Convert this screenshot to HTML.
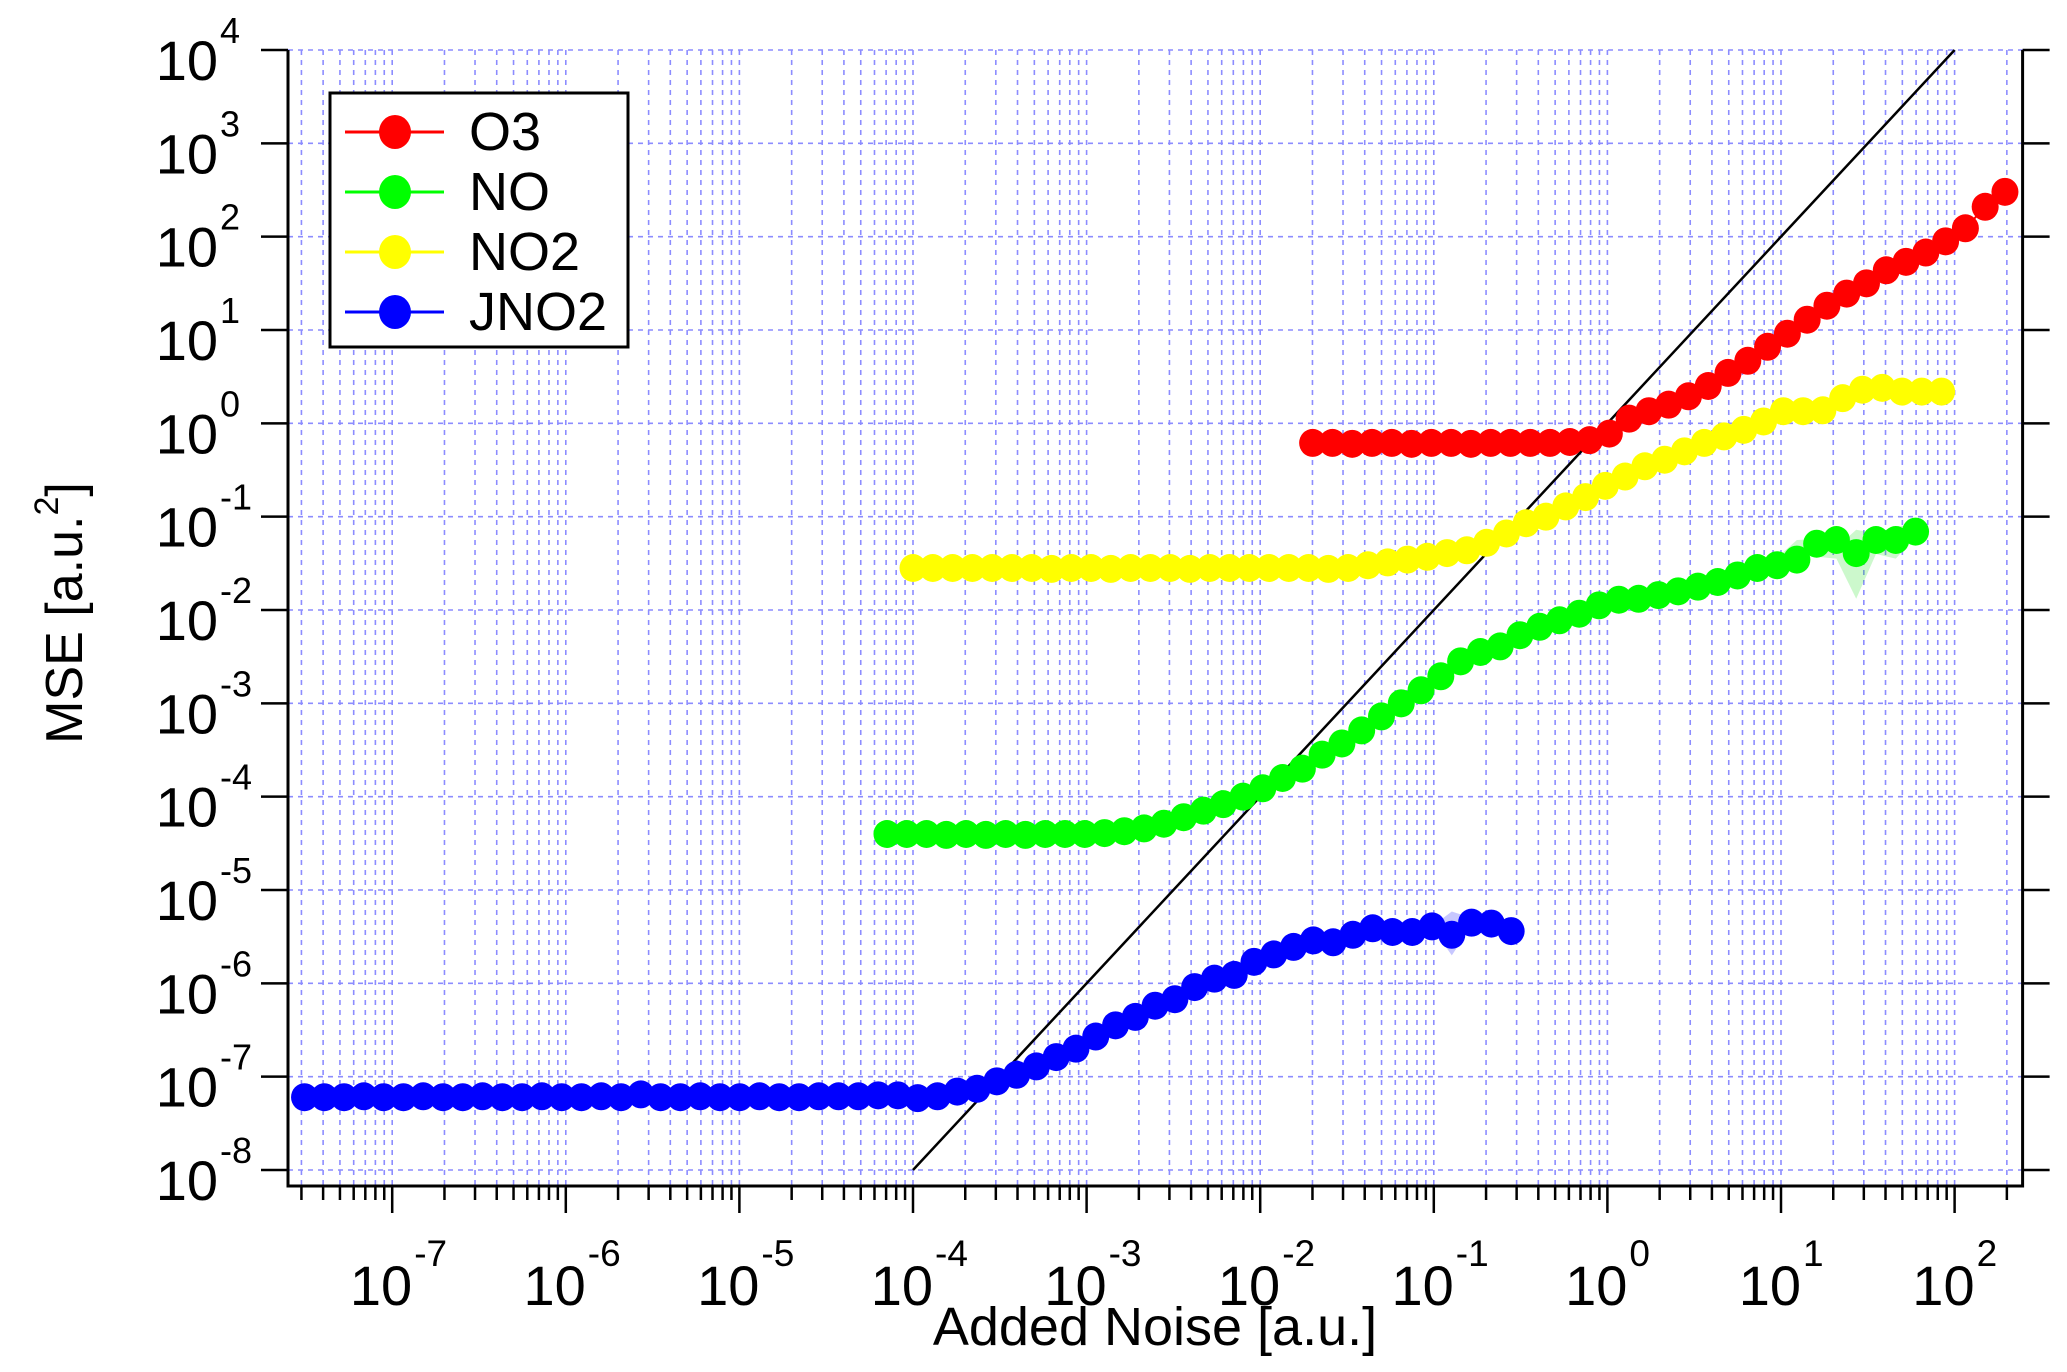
<!DOCTYPE html>
<html><head><meta charset="utf-8"><style>
html,body{margin:0;padding:0;background:#fff;}
svg{display:block;font-family:"Liberation Sans",Arial,sans-serif;}
</style></head><body>
<svg id="chart" width="2067" height="1372" viewBox="0 0 2067 1372" xmlns="http://www.w3.org/2000/svg">
<g id="grid"></g>
<g id="refline"></g>
<g id="series"></g>
<g id="axes"></g>
<text x="1155" y="1345" font-size="54" text-anchor="middle">Added Noise [a.u.]</text>
<text transform="translate(82,613) rotate(-90)" font-size="52" text-anchor="middle">MSE [a.u.<tspan font-size="34" dy="-24">2</tspan><tspan dy="24">]</tspan></text>
<g id="legend"></g>
</svg>
<script>
// ---- data (log10 of values) ----
const xDecades = [-7,-6,-5,-4,-3,-2,-1,0,1,2];
const yDecades = [-8,-7,-6,-5,-4,-3,-2,-1,0,1,2,3,4];
const noiseRatio = 1.3; // consecutive added-noise levels differ by factor 1.3
const o3Start = -1.698, noStart = -4.15, no2Start = -4.0, jno2Start = -7.505; // log10 of first noise level
const o3Values = [-0.21,-0.21,-0.22,-0.21,-0.21,-0.22,-0.21,-0.21,-0.22,-0.21,-0.21,-0.21,-0.21,-0.20,-0.18,-0.11,0.05,0.13,0.20,0.29,0.40,0.54,0.67,0.82,0.96,1.11,1.26,1.39,1.50,1.64,1.73,1.83,1.95,2.09,2.32,2.48];
const noValues = [-4.40,-4.40,-4.40,-4.41,-4.40,-4.41,-4.40,-4.41,-4.40,-4.40,-4.40,-4.39,-4.37,-4.34,-4.29,-4.22,-4.15,-4.08,-4.00,-3.91,-3.80,-3.70,-3.55,-3.43,-3.29,-3.14,-3.00,-2.86,-2.71,-2.55,-2.45,-2.39,-2.27,-2.18,-2.11,-2.04,-1.95,-1.89,-1.88,-1.84,-1.80,-1.75,-1.70,-1.63,-1.55,-1.52,-1.46,-1.29,-1.25,-1.39,-1.25,-1.25,-1.16];
const noBandLo = [null,null,null,null,null,null,null,null,null,null,null,null,null,null,null,null,null,null,null,null,null,null,null,null,null,null,null,null,null,null,null,null,null,null,null,null,null,null,null,null,null,null,null,null,-1.52,-1.60,-1.40,-1.43,-1.45,-1.88,-1.40,-1.45,-1.22];
const noBandHi = [null,null,null,null,null,null,null,null,null,null,null,null,null,null,null,null,null,null,null,null,null,null,null,null,null,null,null,null,null,null,null,null,null,null,null,null,null,null,null,null,null,null,null,null,-1.52,-1.44,-1.25,-1.24,-1.33,-1.14,-1.18,-1.10,-1.10];
const no2Values = [-1.55,-1.55,-1.55,-1.55,-1.55,-1.55,-1.55,-1.56,-1.55,-1.55,-1.56,-1.55,-1.55,-1.55,-1.56,-1.55,-1.55,-1.55,-1.55,-1.55,-1.55,-1.56,-1.55,-1.52,-1.49,-1.46,-1.43,-1.39,-1.36,-1.28,-1.18,-1.07,-1.00,-0.89,-0.79,-0.67,-0.57,-0.46,-0.39,-0.30,-0.21,-0.14,-0.07,0.02,0.13,0.13,0.14,0.27,0.36,0.38,0.34,0.34,0.34];
const jno2Values = [-7.22,-7.22,-7.22,-7.21,-7.22,-7.22,-7.21,-7.22,-7.22,-7.21,-7.22,-7.22,-7.21,-7.22,-7.22,-7.21,-7.22,-7.19,-7.22,-7.22,-7.21,-7.22,-7.22,-7.21,-7.22,-7.22,-7.21,-7.21,-7.21,-7.20,-7.20,-7.23,-7.21,-7.16,-7.13,-7.05,-6.98,-6.89,-6.79,-6.70,-6.57,-6.45,-6.36,-6.24,-6.17,-6.04,-5.95,-5.91,-5.77,-5.69,-5.61,-5.54,-5.56,-5.48,-5.41,-5.45,-5.45,-5.39,-5.48,-5.35,-5.36,-5.44];
const jno2BandLo = [null,null,null,null,null,null,null,null,null,null,null,null,null,null,null,null,null,null,null,null,null,null,null,null,null,null,null,null,null,null,null,null,null,null,null,null,null,null,null,null,null,null,null,null,null,null,null,null,null,null,null,null,null,null,null,null,-5.45,-5.40,-5.70,-5.38,-5.40,-5.44];
const jno2BandHi = [null,null,null,null,null,null,null,null,null,null,null,null,null,null,null,null,null,null,null,null,null,null,null,null,null,null,null,null,null,null,null,null,null,null,null,null,null,null,null,null,null,null,null,null,null,null,null,null,null,null,null,null,null,null,null,null,-5.45,-5.39,-5.23,-5.30,-5.33,-5.44];
const refLineX = [-4, 2]; // log10 noise, reference MSE = noise^2

// ---- axes ----
const X0 = 392.2, XD = 173.6, Y0 = 50, YD = 93.333;
const LEFT = 288, RIGHT = 2022.6, TOP = 50, BOTTOM = 1186;
function xs(lx){ return X0 + (lx + 7) * XD; }
function ys(ly){ return Y0 + (4 - ly) * YD; }
const NS = 'http://www.w3.org/2000/svg';
function mk(tag, attrs, parent){ const e = document.createElementNS(NS, tag); for (const k in attrs) e.setAttribute(k, attrs[k]); parent.appendChild(e); return e; }

const grid = document.getElementById('grid');
const axes = document.getElementById('axes');
const lxMin = Math.log10(2.5e-8), lxMax = (RIGHT - X0)/XD - 7;
for (let d = -8; d <= 2; d++) {
  for (let m = 1; m <= 9; m++) {
    const lx = d + Math.log10(m);
    if (lx < lxMin - 0.02 || lx > lxMax) continue;
    const x = xs(lx);
    const gl = mk('line', {x1:x, x2:x, y1:TOP, y2:BOTTOM, stroke:'#8c8cff', 'stroke-width':1.6, 'stroke-dasharray':'5 5'}, grid);
    
    
    const tk = mk('line', {x1:x, x2:x, y1:BOTTOM, y2: BOTTOM + (m === 1 ? 27 : 14), stroke:'#000', 'stroke-width':2.5}, axes);
    
    
  }
}
yDecades.forEach(d => {
  const y = ys(d);
  const gl = mk('line', {x1:LEFT, x2:RIGHT, y1:y, y2:y, stroke:'#8c8cff', 'stroke-width':1.6, 'stroke-dasharray':'5 5'}, grid);
  
  
  const t1 = mk('line', {x1:LEFT-27, x2:LEFT, y1:y, y2:y, stroke:'#000', 'stroke-width':2.5}, axes);
  
  
  const t2 = mk('line', {x1:RIGHT, x2:RIGHT+27, y1:y, y2:y, stroke:'#000', 'stroke-width':2.5}, axes);
  
  
  const tb = mk('text', {x:218, y:y+30, 'font-size':56, 'text-anchor':'end'}, axes);
  
  
  tb.textContent = '10';
  const ts = mk('text', {x:220, y:y-7, 'font-size':36}, axes);
  
  
  ts.textContent = String(d);
});
xDecades.forEach(d => {
  const x = xs(d);
  const tb = mk('text', {x:x+20, y:1305, 'font-size':56, 'text-anchor':'end'}, axes);
  
  
  tb.textContent = '10';
  const ts = mk('text', {x:x+22, y:1266, 'font-size':37}, axes);
  
  
  ts.textContent = String(d);
});
const ax = mk('path', {d:`M${LEFT},${TOP} V${BOTTOM} H${RIGHT} V${TOP}`, fill:'none', stroke:'#000', 'stroke-width':3}, axes);



// reference line y = x^2
const rl = mk('line', {x1:xs(refLineX[0]), y1:ys(2*refLineX[0]), x2:xs(refLineX[1]), y2:ys(2*refLineX[1]), stroke:'#000', 'stroke-width':2.5}, document.getElementById('refline'));



// series
const seriesG = document.getElementById('series');
const step = Math.log10(noiseRatio);
function band(lo, hi, start, fill, name){
  const up = [], dn = [];
  lo.forEach((v, i) => { if (v !== null) { up.push(`${xs(start+i*step)},${ys(hi[i])}`); dn.unshift(`${xs(start+i*step)},${ys(v)}`); } });
  const p = mk('polygon', {points: up.concat(dn).join(' '), fill: fill}, seriesG);
  
  
}
band(noBandLo, noBandHi, noStart, 'rgba(0,220,0,0.2)', 'no-error-band');
band(jno2BandLo, jno2BandHi, jno2Start, 'rgba(0,0,255,0.22)', 'jno2-error-band');
function drawSeries(vals, start, color, name){
  const g = mk('g', {}, seriesG);
  
  
  const pts = vals.map((v, i) => `${xs(start+i*step)},${ys(v)}`).join(' ');
  const pl = mk('polyline', {points:pts, fill:'none', stroke:color, 'stroke-width':2}, g);
  
  
  vals.forEach((v, i) => {
    const c = mk('ellipse', {cx:xs(start+i*step), cy:ys(v), rx:13.5, ry:14, fill:color}, g);
    
    
  });
}
drawSeries(jno2Values, jno2Start, '#0000ff', 'jno2');
drawSeries(noValues, noStart, '#00ff00', 'no');
drawSeries(no2Values, no2Start, '#ffff00', 'no2');
drawSeries(o3Values, o3Start, '#ff0000', 'o3');

// legend
const legendNames = ['O3','NO','NO2','JNO2'];
const legendColors = ['#ff0000','#00ff00','#ffff00','#0000ff'];
const lg = document.getElementById('legend');
const box = mk('rect', {x:330, y:93, width:298, height:254, fill:'#fff', stroke:'#000', 'stroke-width':3}, lg);


legendNames.forEach((n, i) => {
  const y = 132 + i*60;
  const e = mk('g', {}, lg);
  
  
  mk('line', {x1:345, x2:444, y1:y, y2:y, stroke:legendColors[i], 'stroke-width':3}, e);
  mk('ellipse', {cx:395, cy:y, rx:16, ry:17, fill:legendColors[i]}, e);
  const t = mk('text', {x:469, y:y+18, 'font-size':54}, e);
  
  
  t.textContent = n;
});
</script>
</body></html>
